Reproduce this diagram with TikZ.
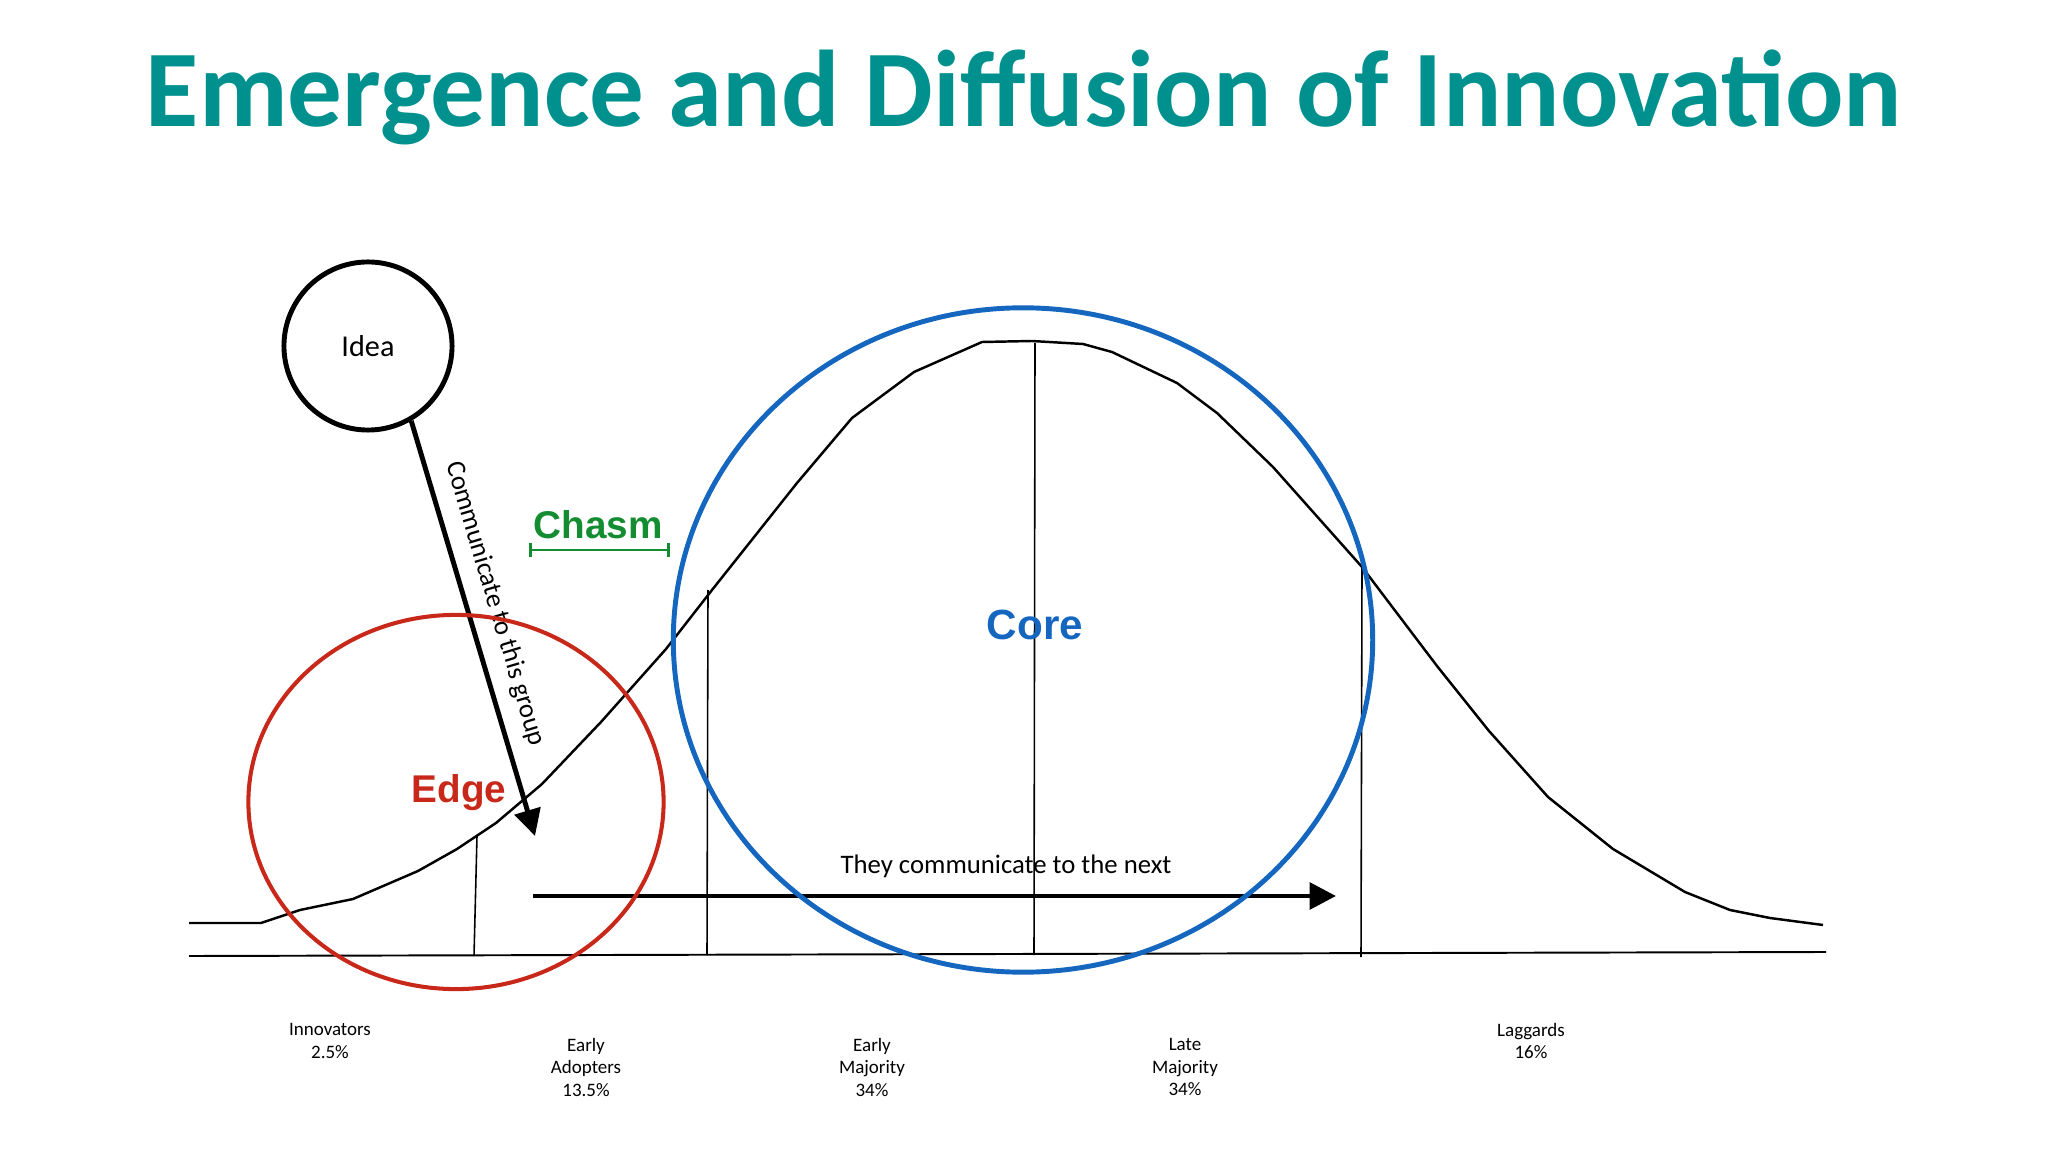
\documentclass[tikz,border=0pt]{standalone}
\usepackage{fontspec}
\setmainfont{Carlito}
\newfontfamily\arialfont{Liberation Sans}
\usetikzlibrary{shapes.geometric,arrows.meta,positioning}

\definecolor{titleteal}{RGB}{0,145,143}
\definecolor{edgered}{RGB}{200,40,25}
\definecolor{coreblue}{RGB}{20,102,190}
\definecolor{chasmgreen}{RGB}{20,140,50}

\tikzset{
  grouplbl/.style={font=\fontsize{5.4}{6.4}\selectfont, align=center, inner sep=0pt},
  bigword/.style={font=\arialfont\bfseries\fontsize{11}{13}\selectfont, inner sep=0pt},
  talk/.style={line width=1.4pt, -{Triangle[length=7.5pt,width=7.5pt]}},
  divider/.style={line width=0.45pt},
}

\begin{document}
\begin{tikzpicture}[x=0.01cm,y=-0.01cm]
  \useasboundingbox (0,0) rectangle (2048,1152);
%  \draw[help lines,step=100] (0,0) grid (2048,1152);

  \node[anchor=base, text=titleteal, font=\bfseries\fontsize{31}{36}\selectfont]
    (title) at (1024,127) {Emergence and Diffusion of Innovation};

  % axis and adoption curve
  \draw[line width=0.55pt] (189,956) -- (1826,952);
  \draw[line width=0.7pt] plot coordinates {
    (189,923) (261,923) (300,910) (353,899) (418,871) (457,849) (496,823)
    (542,784) (601,722) (666,649) (712,590) (797,483) (852,418) (914,372)
    (982,342) (1032,341) (1083,344) (1112,352) (1177,383) (1217,413)
    (1273,467) (1362,567) (1437,666) (1489,731) (1548,797) (1613,849)
    (1685,892) (1730,910) (1770,918) (1823,925)};

  \draw[divider] (477,836) -- (474,956);
  \draw[divider] (708,590) -- (707,955);
  \draw[divider] (1035,343) -- (1034,955);
  \draw[divider] (1362,567) -- (1361,957);

  % group names
  \node[grouplbl] (innov)  at (330,1041)  {Innovators\\2.5\%};
  \node[grouplbl] (early)  at (586,1067)  {Early\\Adopters\\13.5\%};
  \node[grouplbl] (emaj)   at (872,1067)  {Early\\Majority\\34\%};
  \node[grouplbl] (lmaj)   at (1185,1067) {Late\\Majority\\34\%};
  \node[grouplbl] (lagg)   at (1531,1041) {Laggards\\16\%};

  % idea and the arrows
  \node[circle, draw, line width=1.4pt, minimum size=1.68cm, inner sep=0pt,
        font=\fontsize{8.6}{10}\selectfont] (idea) at (368,346) {Idea};
  \coordinate (grptip) at (535,836);
  \draw[talk] (idea.-60) -- (grptip)
    node[pos=0.46, sloped, above=4.1pt, inner sep=0pt, font=\fontsize{7.6}{9}\selectfont]
    (grplbl) {Communicate to this group};

  \coordinate (nextstart) at (533,896);
  \coordinate (nexttip) at (1336,896);
  \draw[talk] (nextstart) -- (nexttip);
  \node[font=\fontsize{7.6}{9}\selectfont, inner sep=0pt] (nextlbl) at (1006,866)
    {They communicate to the next};

  % chasm
  \node[bigword, text=chasmgreen] (chasm) at (598,525) {Chasm};
  \draw[chasmgreen, line width=0.8pt, {Bar[width=4pt]}-{Bar[width=4pt]}] (529,550) -- (670,550);

  % edge and core
  \node[ellipse, draw=edgered, line width=1.15pt, minimum width=4.15cm,
        minimum height=3.74cm, inner sep=0pt] (edgeset) at (456,802) {};
  \node[bigword, text=edgered] (edgelbl) at (459,793) {Edge};

  \node[ellipse, draw=coreblue, line width=1.4pt, minimum width=6.99cm,
        minimum height=6.64cm, inner sep=0pt] (coreset) at (1023,640) {};
  \node[bigword, text=coreblue, font=\arialfont\bfseries\fontsize{12}{14}\selectfont]
    (corelbl) at (1035,625) {Core};
\end{tikzpicture}
\end{document}
